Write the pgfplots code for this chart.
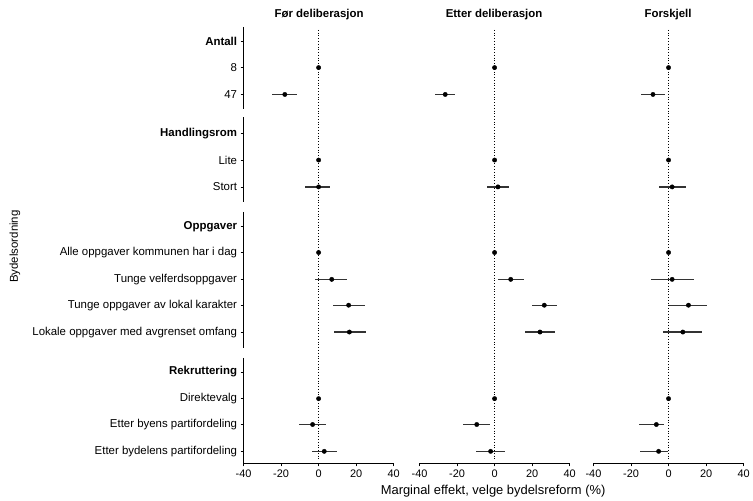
\documentclass[border=0pt]{standalone}
\usepackage{pgfplots}
\usepackage{pgfplotstable}
\pgfplotsset{compat=1.18}
\usepackage{fontspec}
\setmainfont{Liberation Sans}
\pgfplotstableread{
y x ep em
-68 0 0 0
-95 -18 6.5 7
-161 0 0 0
-188 0 6 7
-254 0 0 0
-281 7 8.3 9
-307 16 8.7 8.5
-334 16.4 8.6 8.4
-401 0 0 0
-427 -3.2 7 7
-454 3 7 6.7
}\tA
\pgfplotstableread{
y x ep em
-68 0 0 0
-95 -26.3 5.3 5.7
-161 0 0 0
-188 1.8 5.8 5.7
-254 0 0 0
-281 8.6 7.1 6.7
-307 26.5 6.5 6.5
-334 24.2 8.1 8.2
-401 0 0 0
-427 -9.5 7 7.5
-454 -2.1 7.9 7.9
}\tB
\pgfplotstableread{
y x ep em
-68 0 0 0
-95 -8.3 6.5 6.3
-161 0 0 0
-188 1.9 7.3 6.8
-254 0 0 0
-281 1.9 11.5 11.4
-307 10.6 10 10.2
-334 7.6 10.4 10.4
-401 0 0 0
-427 -6.5 4.2 9.2
-454 -5.3 4.8 9.7
}\tC
\pgfplotsset{
  panel/.style={scale only axis, width=151pt, height=436pt,
    xmin=-40, xmax=40, ymin=-466, ymax=-30,
    xtick={-40,-20,0,20,40},
    axis x line*=bottom, axis y line*=left,
    y axis line style={draw=none},
    x axis line style={line width=0.9pt,-},
    tick align=outside, major tick length=3pt,
    tick style={black, line width=0.6pt},
    ticklabel style={font=\fontsize{11}{12}\selectfont},
    /pgf/number format/assume math mode=true,
    clip=false, anchor=south west},
  ser/.style={only marks, mark=*, mark size=2.2pt, black,
    error bars/.cd, x dir=both, x explicit, error mark=none,
    error bar style={line width=1.3pt, black!80}},
}
\newcommand\panelbody[1]{%
  \draw[dotted, line width=0.8pt] (axis cs:0,-30) -- (axis cs:0,-462);
  \addplot[ser] table[x=x,y=y,x error plus=ep,x error minus=em] {#1};
}
\begin{document}
\begin{tikzpicture}
\path (0,0) rectangle (753pt,-502pt);
\begin{axis}[panel, at={(245pt,-466pt)},
  ytick={-42,-68,-95,-134,-161,-188,-228,-254,-281,-307,-334,-374,-401,-427,-454},
  yticklabel style={font=\fontsize{11.5}{12}\selectfont},
  yticklabels={\textbf{Antall},8,47,\textbf{Handlingsrom},Lite,Stort,\textbf{Oppgaver},Alle oppgaver kommunen har i dag,Tunge velferdsoppgaver,Tunge oppgaver av lokal karakter,Lokale oppgaver med avgrenset omfang,\textbf{Rekruttering},Direktevalg,Etter byens partifordeling,Etter bydelens partifordeling}]
  \draw[line width=0.9pt] (axis cs:-40,-27) -- (axis cs:-40,-110);
  \draw[line width=0.9pt] (axis cs:-40,-118) -- (axis cs:-40,-203);
  \draw[line width=0.9pt] (axis cs:-40,-213) -- (axis cs:-40,-350);
  \draw[line width=0.9pt] (axis cs:-40,-360) -- (axis cs:-40,-466);
  \panelbody{\tA}
\end{axis}
\begin{axis}[panel, at={(422pt,-466pt)}, ytick=\empty]
  \panelbody{\tB}
\end{axis}
\begin{axis}[panel, at={(597pt,-466pt)}, ytick=\empty]
  \panelbody{\tC}
\end{axis}
\node[font=\bfseries\fontsize{11.5}{12}\selectfont] at (321pt,-15pt) {Før deliberasjon};
\node[font=\bfseries\fontsize{11.5}{12}\selectfont] at (497pt,-15pt) {Etter deliberasjon};
\node[font=\bfseries\fontsize{11.5}{12}\selectfont] at (672pt,-15pt) {Forskjell};
\node[font=\fontsize{13}{14}\selectfont] at (496pt,-494pt) {Marginal effekt, velge bydelsreform (\%)};
\node[rotate=90, font=\fontsize{11.5}{12}\selectfont] at (15pt,-248pt) {Bydelsordning};
\end{tikzpicture}
\end{document}
